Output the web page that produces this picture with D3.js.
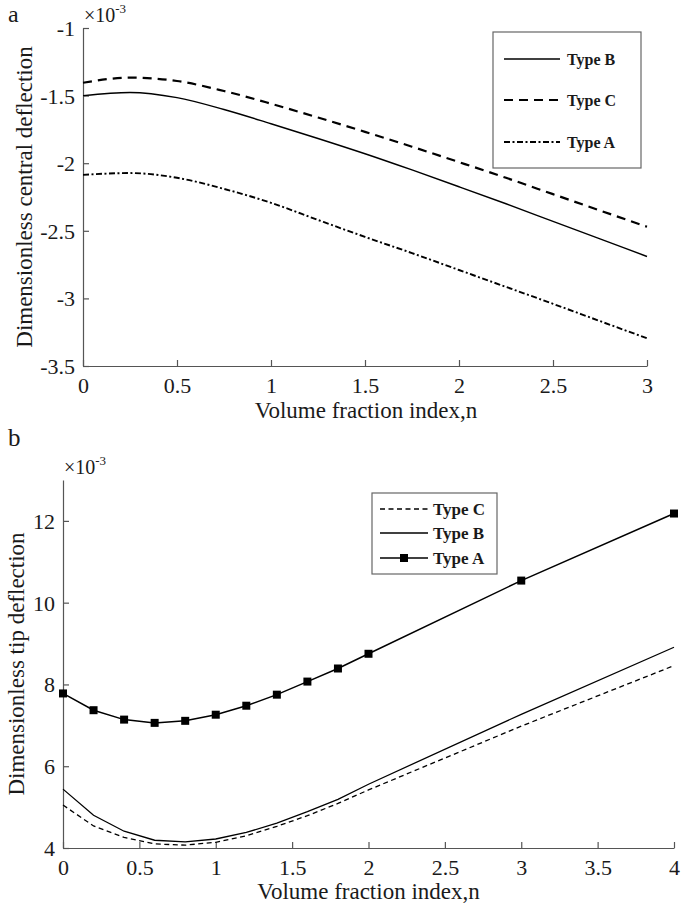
<!DOCTYPE html>
<html><head><meta charset="utf-8">
<script src="https://cdn.jsdelivr.net/npm/d3@7"></script>
<style>
html,body{margin:0;padding:0;background:#fff;}
svg{display:block;font-family:"Liberation Serif","Times New Roman","DejaVu Serif",serif;}
</style></head>
<body>
<svg id="chart" width="685" height="908"></svg>
<script>
// ---------- Panel a data ----------
const nA = [0, 0.25, 0.5, 0.75, 1.0, 1.25, 1.5, 1.75, 2.0, 2.25, 2.5, 2.75, 3.0];
const aTypeB = [-1.500, -1.477, -1.515, -1.603, -1.708, -1.817, -1.930, -2.050, -2.174, -2.300, -2.430, -2.560, -2.690];
const aTypeC = [-1.405, -1.367, -1.392, -1.466, -1.560, -1.662, -1.768, -1.878, -1.992, -2.108, -2.229, -2.350, -2.470];
const aTypeA = [-2.086, -2.073, -2.108, -2.190, -2.293, -2.420, -2.545, -2.665, -2.790, -2.915, -3.040, -3.168, -3.295];
const aXTicks = [0, 0.5, 1, 1.5, 2, 2.5, 3];
const aXTickLabels = ["0", "0.5", "1", "1.5", "2", "2.5", "3"];
const aYTicks = [-1, -1.5, -2, -2.5, -3, -3.5];
const aYTickLabels = ["-1", "-1.5", "-2", "-2.5", "-3", "-3.5"];

// ---------- Panel b data ----------
const nB = [0, 0.2, 0.4, 0.6, 0.8, 1.0, 1.2, 1.4, 1.6, 1.8, 2.0, 3.0, 4.0];
const bTypeA = [7.78, 7.37, 7.14, 7.06, 7.11, 7.26, 7.48, 7.75, 8.07, 8.39, 8.75, 10.54, 12.18];
const bTypeB = [5.44, 4.80, 4.41, 4.19, 4.15, 4.22, 4.38, 4.61, 4.89, 5.19, 5.56, 7.27, 8.91];
const bTypeC = [5.05, 4.54, 4.26, 4.10, 4.07, 4.14, 4.30, 4.53, 4.79, 5.09, 5.42, 6.98, 8.46];
const bXTicks = [0, 0.5, 1, 1.5, 2, 2.5, 3, 3.5, 4];
const bXTickLabels = ["0", "0.5", "1", "1.5", "2", "2.5", "3", "3.5", "4"];
const bYTicks = [4, 6, 8, 10, 12];
const bYTickLabels = ["4", "6", "8", "10", "12"];

const xLabel = "Volume fraction index,n";
const aYLabel = "Dimensionless central deflection";
const bYLabel = "Dimensionless tip deflection";

const svg = d3.select("#chart");
const axisColor = "#555";
const textColor = "#1a1a1a";
const FONT = "'Liberation Serif','Times New Roman','DejaVu Serif',serif";

function drawAxes(g, x, y, xt, xtl, yt, ytl) {
  const xAxis = d3.axisBottom(x).tickValues(xt).tickFormat((d, i) => xtl[i]).tickSizeOuter(0).tickSizeInner(-6);
  const gx = g.append("g").attr("transform", `translate(0,${y.range()[0]})`).call(xAxis);
  const yAxis = d3.axisLeft(y).tickValues(yt).tickFormat((d, i) => ytl[i]).tickSizeOuter(0).tickSizeInner(-6);
  const gy = g.append("g").attr("transform", `translate(${x.range()[0]},0)`).call(yAxis);
  [gx, gy].forEach(a => {
    a.attr("font-family", FONT);
    a.select(".domain").attr("stroke", axisColor).attr("stroke-width", 1.2);
    a.selectAll(".tick line").attr("stroke", axisColor).attr("stroke-width", 1.2);
    a.selectAll(".tick text").attr("fill", textColor).attr("font-size", 22).attr("font-family", FONT);
  });
  gx.selectAll(".tick text").attr("y", 27).attr("dy", null);
  gy.selectAll(".tick text").attr("x", -8).attr("dy", "0.34em");
}

function multiplier(g, x0, yBase) {
  const t = g.append("text").attr("x", x0 + 1).attr("y", yBase).attr("font-size", 20).attr("fill", textColor);
  t.append("tspan").text("×10");
  t.append("tspan").attr("font-size", 13).attr("dy", -9).text("-3");
}

// ---------- Panel a ----------
const gA = svg.append("g");
const xA = d3.scaleLinear().domain([0, 3]).range([83, 647]);
const yA = d3.scaleLinear().domain([-3.5, -1]).range([366, 28]);
drawAxes(gA, xA, yA, aXTicks, aXTickLabels, aYTicks, aYTickLabels);
multiplier(gA, 83, 22);
gA.append("text").attr("x", 8).attr("y", 22).attr("font-size", 24).attr("fill", textColor).text("a");
gA.append("text").attr("x", 366).attr("y", 418).attr("text-anchor", "middle").attr("font-size", 23).attr("fill", textColor).text(xLabel);
gA.append("text").attr("transform", `translate(32,${(28 + 366) / 2}) rotate(-90)`).attr("text-anchor", "middle")
  .attr("font-size", 23).attr("fill", textColor).text(aYLabel);

const aSeries = [
  {name: "Type B", vals: aTypeB, dash: null, w: 1.4},
  {name: "Type C", vals: aTypeC, dash: "9,6", w: 2.2},
  {name: "Type A", vals: aTypeA, dash: "6,2.5,2,2.5", w: 1.9}
];
const lineA = d3.line().x(d => xA(d[0])).y(d => yA(d[1])).curve(d3.curveMonotoneX);
aSeries.forEach(s => {
  gA.append("path").datum(nA.map((n, i) => [n, s.vals[i]]))
    .attr("d", lineA).attr("fill", "none").attr("stroke", "#000")
    .attr("stroke-width", s.w).attr("stroke-dasharray", s.dash);
});
// legend a
const legA = gA.append("g");
legA.append("rect").attr("x", 493).attr("y", 32).attr("width", 148).attr("height", 136)
  .attr("fill", "#fff").attr("stroke", "#666").attr("stroke-width", 1.2);
const legAY = [59, 100, 142];
aSeries.forEach((s, i) => {
  legA.append("line").attr("x1", 504).attr("x2", 560).attr("y1", legAY[i]).attr("y2", legAY[i])
    .attr("stroke", "#000").attr("stroke-width", s.w).attr("stroke-dasharray", s.dash);
  legA.append("text").attr("x", 567).attr("y", legAY[i] + 5.5).attr("font-size", 16).attr("font-weight", "bold")
    .attr("fill", textColor).text(s.name);
});

// ---------- Panel b ----------
const gB = svg.append("g");
const xB = d3.scaleLinear().domain([0, 4]).range([63, 674]);
const yB = d3.scaleLinear().domain([4, 13]).range([848, 480]);
drawAxes(gB, xB, yB, bXTicks, bXTickLabels, bYTicks, bYTickLabels);
multiplier(gB, 63, 474);
gB.append("text").attr("x", 8).attr("y", 446).attr("font-size", 25).attr("fill", textColor).text("b");
gB.append("text").attr("x", (63 + 674) / 2).attr("y", 899).attr("text-anchor", "middle").attr("font-size", 23).attr("fill", textColor).text(xLabel);
gB.append("text").attr("transform", `translate(24,${(480 + 848) / 2}) rotate(-90)`).attr("text-anchor", "middle")
  .attr("font-size", 23).attr("fill", textColor).text(bYLabel);

const bSeries = [
  {name: "Type C", vals: bTypeC, dash: "5,3.5", w: 1.3, marker: false},
  {name: "Type B", vals: bTypeB, dash: null, w: 1.3, marker: false},
  {name: "Type A", vals: bTypeA, dash: null, w: 1.5, marker: true}
];
const lineB = d3.line().x(d => xB(d[0])).y(d => yB(d[1]));
bSeries.forEach(s => {
  const pts = nB.map((n, i) => [n, s.vals[i]]);
  gB.append("path").datum(pts).attr("d", lineB).attr("fill", "none").attr("stroke", "#000")
    .attr("stroke-width", s.w).attr("stroke-dasharray", s.dash);
  if (s.marker) {
    gB.selectAll(null).data(pts).enter().append("rect")
      .attr("x", d => xB(d[0]) - 4).attr("y", d => yB(d[1]) - 4)
      .attr("width", 8).attr("height", 8).attr("fill", "#000");
  }
});
// legend b
const legB = gB.append("g");
legB.append("rect").attr("x", 372).attr("y", 493).attr("width", 125).attr("height", 81)
  .attr("fill", "#fff").attr("stroke", "#666").attr("stroke-width", 1.2);
const legBY = [509, 533, 558];
bSeries.forEach((s, i) => {
  legB.append("line").attr("x1", 380).attr("x2", 428).attr("y1", legBY[i]).attr("y2", legBY[i])
    .attr("stroke", "#000").attr("stroke-width", s.w).attr("stroke-dasharray", s.dash);
  if (s.marker) legB.append("rect").attr("x", 400).attr("y", legBY[i] - 4).attr("width", 8).attr("height", 8).attr("fill", "#000");
  legB.append("text").attr("x", 433).attr("y", legBY[i] + 6).attr("font-size", 17).attr("font-weight", "bold")
    .attr("fill", textColor).text(s.name);
});
</script>
</body></html>
